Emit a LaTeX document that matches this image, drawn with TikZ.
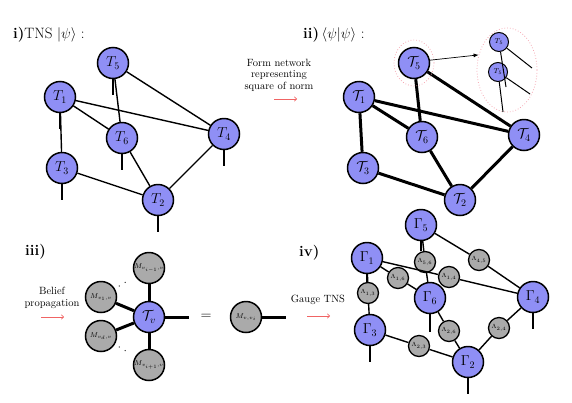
\documentclass[tikz,border=0pt]{standalone}
\usepackage{amsmath,amssymb}
\usetikzlibrary{arrows.meta,shapes.geometric}
\definecolor{nblue}{RGB}{143,143,245}
\definecolor{ngray}{RGB}{170,170,170}
\definecolor{nred}{RGB}{240,100,100}
\definecolor{npink}{RGB}{245,170,180}
\tikzset{
  tn/.style={circle, draw, line width=1.5pt, fill=nblue, minimum size=31pt, inner sep=0pt, font=\fontsize{14.4}{16}\selectfont},
  smalltn/.style={circle, draw, line width=1pt, fill=nblue, minimum size=19pt, inner sep=0pt, font=\fontsize{7}{8}\selectfont},
  msg/.style={circle, draw, line width=1.5pt, fill=ngray, minimum size=31pt, inner sep=0pt, font=\fontsize{7}{8}\selectfont},
  lam/.style={circle, draw, line width=1.3pt, fill=ngray, minimum size=21pt, inner sep=0pt, font=\fontsize{6.5}{7}\selectfont},
  bond/.style={line width=1.4pt},
  dbond/.style={line width=3pt},
  redarrow/.style={draw=nred, line width=0.6pt, -{To[length=3pt,width=5pt]}},
  ttl/.style={anchor=west, inner sep=0pt, font=\fontsize{15}{17}\selectfont},
  captext/.style={align=center, inner sep=0pt, font=\fontsize{10.5}{11.5}\selectfont},
  dotline/.style={line width=1.3pt, dash pattern=on 0pt off 7pt, line cap=round, shorten <=5pt, shorten >=5pt}
}
\begin{document}
\begin{tikzpicture}[x=1pt,y=-1pt]
\useasboundingbox (0,0) rectangle (572,402);

% ---------- Panel i ----------
\node[ttl] (ti) at (13,35) {\textbf{i)}TNS $|\psi\rangle$ :};
\node[tn] (a5) at (113,63) {$T_5$};
\node[tn] (a1) at (60,97) {$T_1$};
\node[tn] (a6) at (122,138) {$T_6$};
\node[tn] (a4) at (224,134) {$T_4$};
\node[tn] (a3) at (62,168) {$T_3$};
\node[tn] (a2) at (158,200) {$T_2$};
\coordinate (la5) at (113,95);
\coordinate (la1) at (60,129);
\coordinate (la6) at (122,170);
\coordinate (la4) at (224,166);
\coordinate (la3) at (62,200);
\coordinate (la2) at (158,232);
\foreach \n in {1,...,6} \draw[bond] (a\n) -- (la\n);
\draw[bond] (a5) -- (a6);
\draw[bond] (a5) -- (a4);
\draw[bond] (a1) -- (a6);
\draw[bond] (a1) -- (a4);
\draw[bond] (a1) -- (a3);
\draw[bond] (a3) -- (a2);
\draw[bond] (a6) -- (a2);
\draw[bond] (a4) -- (a2);

% ---------- arrow i -> ii ----------
\node[captext] (capi) at (279,75) {Form network\\representing\\square of norm};
\coordinate (ra1) at (274,99);
\coordinate (rb1) at (297,99);
\draw[redarrow] (ra1) -- (rb1);

% ---------- Panel ii ----------
\node[ttl] (tii) at (303,35) {\textbf{ii)}\,$\langle\psi|\psi\rangle$ :};
\node[tn] (u5) at (414,63) {$\mathcal{T}_5$};
\node[tn] (u1) at (359,97) {$\mathcal{T}_1$};
\node[tn] (u6) at (422,137) {$\mathcal{T}_6$};
\node[tn] (u4) at (524,135) {$\mathcal{T}_4$};
\node[tn] (u3) at (363,168) {$\mathcal{T}_3$};
\node[tn] (u2) at (460,200) {$\mathcal{T}_2$};
\draw[dbond] (u5) -- (u6);
\draw[dbond] (u5) -- (u4);
\draw[dbond] (u1) -- (u6);
\draw[dbond] (u1) -- (u4);
\draw[dbond] (u1) -- (u3);
\draw[dbond] (u3) -- (u2);
\draw[dbond] (u6) -- (u2);
\draw[dbond] (u4) -- (u2);
\node[ellipse, draw=npink, dotted, line width=0.8pt, minimum width=40pt, minimum height=46pt] (eL) at (414,63) {};
\node[ellipse, draw=npink, dotted, line width=0.8pt, minimum width=60pt, minimum height=84pt] (eR) at (507,70) {};
\draw[line width=0.7pt, -{Latex[length=5pt,width=4pt]}] (u5.10) -- (eR.152);
\node[smalltn] (s5a) at (499,42) {$T_5$};
\node[smalltn] (s5b) at (498,72) {$T_5$};
\coordinate (sa1) at (532,68);
\coordinate (sa2) at (506,87);
\coordinate (sb1) at (530,94);
\coordinate (sb2) at (503,112);
\draw[line width=1pt] (s5a) -- (sa1);
\draw[line width=1pt] (s5b) -- (sb1);
\draw[line width=1pt] (s5b) -- (sb2);
\draw[line width=1pt] (s5a) -- (sa2);

% ---------- Panel iii ----------
\node[ttl] (tiii) at (25,252) {\textbf{iii)}};
\node[captext] (capiii) at (52,298) {Belief\\propagation};
\coordinate (ra3) at (41,317);
\coordinate (rb3) at (64,317);
\draw[redarrow] (ra3) -- (rb3);
\node[tn] (tv) at (149,317) {$\mathcal{T}_v$};
\node[msg] (mim) at (149,268) {$M_{v_{i-1},v}$};
\node[msg] (m1) at (101,297) {$M_{v_1,v}$};
\node[msg] (md) at (101,336) {$M_{v_d,v}$};
\node[msg] (mip) at (149,365) {$M_{v_{i+1},v}$};
\coordinate (ltv) at (189,317);
\draw[dbond] (tv) -- (mim);
\draw[dbond] (tv) -- (m1);
\draw[dbond] (tv) -- (md);
\draw[dbond] (tv) -- (mip);
\draw[dbond] (tv) -- (ltv);
\draw[dotline] (m1) -- (mim);
\draw[dotline] (md) -- (mip);
\node[font=\fontsize{15}{16}\selectfont] (eq) at (206,317) {$=$};
\node[msg] (mvv) at (246,317) {$M_{v,v_i}$};
\coordinate (lmvv) at (286,317);
\draw[dbond] (mvv) -- (lmvv);

% ---------- Panel iv ----------
\node[ttl] (tiv) at (299,253) {\textbf{iv)}};
\node[captext] (capiv) at (318,300) {Gauge TNS};
\coordinate (ra4) at (307,316);
\coordinate (rb4) at (330,316);
\draw[redarrow] (ra4) -- (rb4);
\node[tn] (g5) at (421,225) {$\Gamma_5$};
\node[tn] (g1) at (367,258) {$\Gamma_1$};
\node[tn] (g6) at (430,298) {$\Gamma_6$};
\node[tn] (g4) at (533,297) {$\Gamma_4$};
\node[tn] (g3) at (370,330) {$\Gamma_3$};
\node[tn] (g2) at (468,362) {$\Gamma_2$};
\node[lam] (l56) at (425,262) {$\Lambda_{5,6}$};
\node[lam] (l45) at (479,260) {$\Lambda_{4,5}$};
\node[lam] (l16) at (398,278) {$\Lambda_{1,6}$};
\node[lam] (l14) at (449,277) {$\Lambda_{1,4}$};
\node[lam] (l13) at (368,293) {$\Lambda_{1,3}$};
\node[lam] (l26) at (449,331) {$\Lambda_{2,6}$};
\node[lam] (l24) at (499,328) {$\Lambda_{2,4}$};
\node[lam] (l23) at (419,346) {$\Lambda_{2,3}$};
\coordinate (lg5) at (421,251);
\coordinate (lg1) at (367,282);
\coordinate (lg6) at (430,332);
\coordinate (lg4) at (533,329);
\coordinate (lg3) at (370,362);
\coordinate (lg2) at (468,394);
\foreach \n in {1,...,6} \draw[bond] (g\n) -- (lg\n);
\draw[bond] (g5) -- (l56) (l56) -- (g6);
\draw[bond] (g5) -- (l45) (l45) -- (g4);
\draw[bond] (g1) -- (l16) (l16) -- (g6);
\draw[bond] (g1) -- (l14) (l14) -- (g4);
\draw[bond] (g1) -- (l13) (l13) -- (g3);
\draw[bond] (g3) -- (l23) (l23) -- (g2);
\draw[bond] (g6) -- (l26) (l26) -- (g2);
\draw[bond] (g4) -- (l24) (l24) -- (g2);
\end{tikzpicture}
\end{document}
